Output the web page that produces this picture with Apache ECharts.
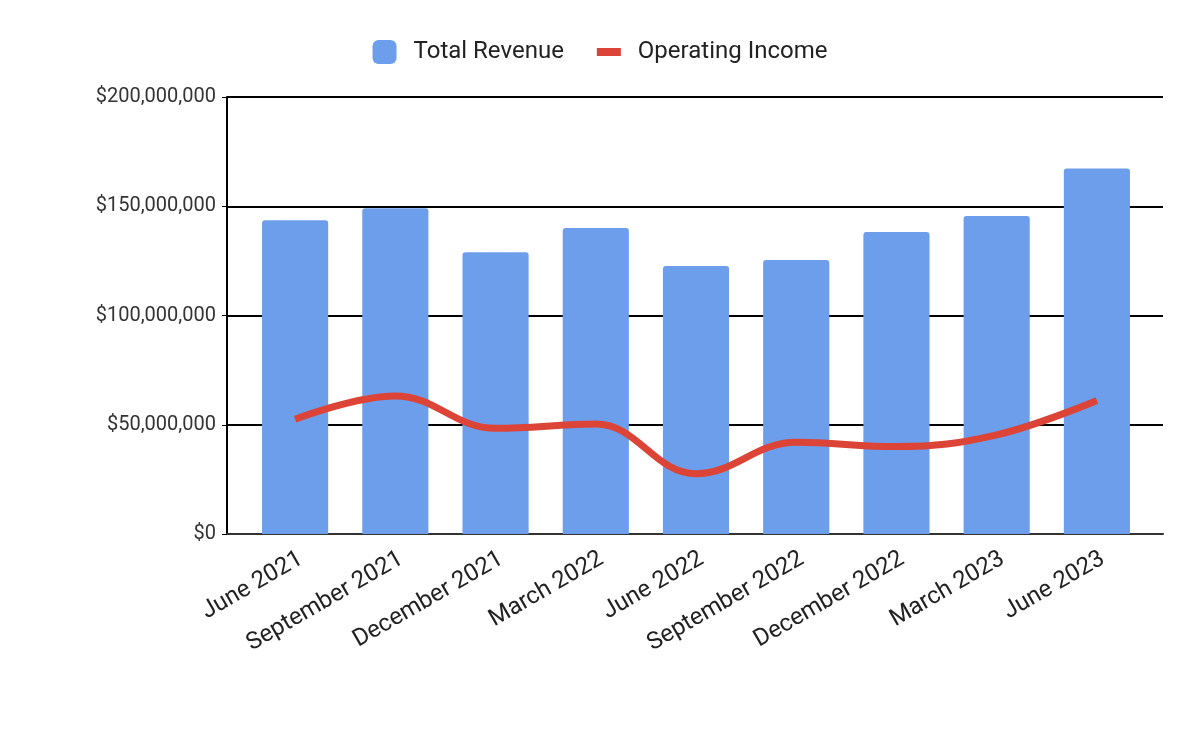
<!DOCTYPE html>
<html>
<head>
<meta charset="utf-8">
<script src="https://cdn.jsdelivr.net/npm/echarts@6/dist/echarts.min.js"></script>
<style>
  html, body { margin: 0; padding: 0; background: #fff; }
  #chart { width: 1200px; height: 741px; }
</style>
</head>
<body>
<div id="chart"></div>
<script>
const quarters = ['June 2021', 'September 2021', 'December 2021', 'March 2022', 'June 2022',
  'September 2022', 'December 2022', 'March 2023', 'June 2023']
const totalRevenue = [143.6, 149.1, 129.0, 140.0, 122.7, 125.4, 138.2, 145.5, 167.3].map(v => v * 1e6)
const operatingIncome = [52.5, 63.2, 48.4, 50.3, 27.6, 42.0, 40.0, 45.4, 61.1].map(v => v * 1e6)

const fmtMoney = v => '$' + Math.round(v).toLocaleString('en-US')

// thick dash for the line legend, padded to a 24x24 box so it isn't stretched
const dashIcon = 'path://M0,0L24,0L24,0.01L0,0.01Z M0,8L24,8L24,16L0,16Z M0,23.99L24,23.99L24,24L0,24Z'

const chart = echarts.init(document.getElementById('chart'))
chart.setOption({
  animation: false,
  textStyle: { fontFamily: 'Roboto' },
  legend: {
    top: 35,
    left: 'center',
    itemWidth: 24,
    itemHeight: 24,
    itemGap: 33,
    textStyle: { fontSize: 24, color: '#222', fontFamily: 'Roboto', padding: [0, 0, 0, 12] },
    data: [
      { name: 'Total Revenue', icon: 'roundRect' },
      { name: 'Operating Income', icon: dashIcon }
    ]
  },
  // grid 0 carries the frame (y axis + gridlines), grid 1 the data (inset like Sheets)
  grid: [
    { left: 227, right: 37, top: 97, bottom: 207 },
    { left: 245, right: 53, top: 97, bottom: 207 }
  ],
  xAxis: [
    {
      type: 'value', gridIndex: 0, min: 0, max: 1,
      axisLabel: { show: false }, axisTick: { show: false }, splitLine: { show: false },
      axisLine: { lineStyle: { color: '#333', width: 2 } }
    },
    {
      type: 'category', gridIndex: 1,
      data: quarters,
      axisTick: { show: false },
      axisLine: { show: false },
      axisLabel: { rotate: 30, fontSize: 24, color: '#222', margin: 13, interval: 0, verticalAlign: 'top' }
    }
  ],
  yAxis: [
    {
      type: 'value', gridIndex: 0,
      min: 0, max: 200e6, interval: 50e6,
      axisLine: { show: true, lineStyle: { color: '#000', width: 2 } },
      splitLine: { lineStyle: { color: '#000', width: 2 } },
      axisLabel: { fontSize: 20, color: '#333', margin: 11, formatter: fmtMoney }
    },
    {
      type: 'value', gridIndex: 1,
      min: 0, max: 200e6, interval: 50e6,
      axisLine: { show: false }, axisLabel: { show: false }, splitLine: { show: false }
    }
  ],
  series: [
    {
      name: 'Total Revenue',
      type: 'bar',
      xAxisIndex: 1, yAxisIndex: 1,
      data: totalRevenue,
      barWidth: '66%',
      itemStyle: { color: '#6d9eeb', borderRadius: [3, 3, 0, 0] }
    },
    {
      name: 'Operating Income',
      type: 'line',
      xAxisIndex: 1, yAxisIndex: 1,
      data: operatingIncome,
      smooth: 0.4,
      symbol: 'none',
      lineStyle: { color: '#db4437', width: 7 },
      itemStyle: { color: '#db4437' }
    }
  ]
})
</script>
</body>
</html>
